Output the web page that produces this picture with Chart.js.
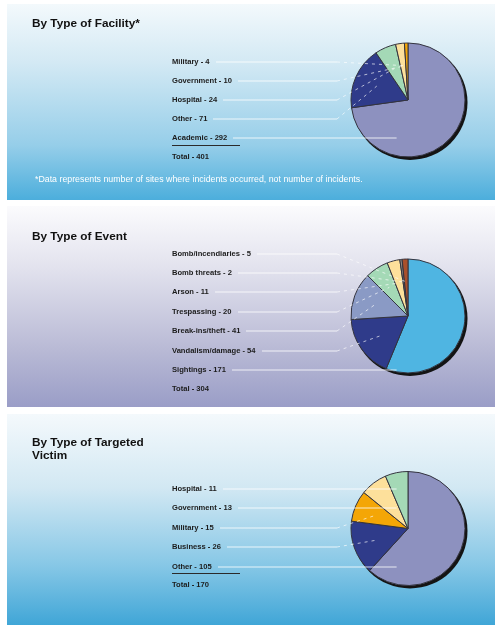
<!DOCTYPE html>
<html>
<head>
    <title>Incidents by Type</title>
    <script src="https://cdn.jsdelivr.net/npm/chart.js"></script>
    <style>
        body {
            margin: 0;
            background: #fff;
            font-family: "Liberation Sans", Arial, sans-serif;
            width: 495px;
            height: 625px;
            overflow: hidden;
            position: relative;
        }
        .panel {
            position: absolute;
            left: 7px;
            width: 488px;
        }
        #facility {
            top: 4px;
            height: 196px;
            background: linear-gradient(#f3f9fc 0%, #d3e9f4 30%, #96cee9 72%, #4caedc 100%);
        }
        #event {
            top: 206px;
            height: 201px;
            background: linear-gradient(#fbfbfd 0%, #e3e3ee 30%, #b8b9d5 72%, #9a9dc7 100%);
        }
        #victim {
            top: 414px;
            height: 211px;
            background: linear-gradient(#f4f9fc 0%, #d2e8f3 35%, #86c7e6 72%, #40a6d7 100%);
        }
        .panel canvas {
            position: absolute;
            left: 0;
            top: 0;
        }
        .title {
            position: absolute;
            left: 25px;
            font-size: 11.8px;
            font-weight: bold;
            line-height: 13px;
            color: #111;
        }
        .lbl {
            position: absolute;
            left: 165px;
            font-size: 7.6px;
            font-weight: bold;
            line-height: 9px;
            color: #1c1c1c;
            white-space: nowrap;
        }
        .rule {
            position: absolute;
            left: 165px;
            width: 68px;
            border-top: 1.5px solid #2a2a2a;
        }
        .note {
            position: absolute;
            left: 28px;
            font-size: 8.8px;
            line-height: 10px;
            color: #fff;
            white-space: nowrap;
        }
    </style>
</head>
<body>
    <div class="panel" id="facility">
        <canvas width="488" height="196"></canvas>
        <div class="title" style="top: 13px;">By Type of Facility*</div>
        <div class="note" style="top: 170px;">*Data represents number of sites where incidents occurred, not number of incidents.</div>
    </div>
    <div class="panel" id="event">
        <canvas width="488" height="201"></canvas>
        <div class="title" style="top: 24px;">By Type of Event</div>
    </div>
    <div class="panel" id="victim">
        <canvas width="488" height="211"></canvas>
        <div class="title" style="top: 22px;">By Type of Targeted<br>Victim</div>
    </div>

    <script>
        // counts per category, listed top to bottom as in the key
        const facilityLabels = ['Military', 'Government', 'Hospital', 'Other', 'Academic'];
        const facilityCounts = [4, 10, 24, 71, 292];

        const eventLabels = ['Bomb/incendiaries', 'Bomb threats', 'Arson', 'Trespassing',
                             'Break-ins/theft', 'Vandalism/damage', 'Sightings'];
        const eventCounts = [5, 2, 11, 20, 41, 54, 171];

        const victimLabels = ['Hospital', 'Government', 'Military', 'Business', 'Other'];
        const victimCounts = [11, 13, 15, 26, 105];

        const ORANGE = '#f4a606', CREAM = '#fde09b', MINT = '#a4d9b6', NAVY = '#2f3b8a',
              LAVENDER = '#8d91bf', SKY = '#4fb5e2', STEEL = '#8a9ac5', BROWN = '#a9502c', GREY = '#8c8580';

        const facilityColors = [ORANGE, CREAM, MINT, NAVY, LAVENDER];
        const eventColors = [BROWN, GREY, CREAM, MINT, STEEL, NAVY, SKY];
        const victimColors = [MINT, CREAM, ORANGE, NAVY, LAVENDER];

        // dark crescent under the pie
        const pieShadow = {
            id: 'pieShadow',
            beforeDatasetsDraw(chart) {
                const arc = chart.getDatasetMeta(0).data[0];
                const ctx = chart.ctx;
                ctx.save();
                ctx.fillStyle = '#141414';
                ctx.beginPath();
                ctx.arc(arc.x + 2, arc.y + 2.5, arc.outerRadius + 0.5, 0, Math.PI * 2);
                ctx.fill();
                ctx.restore();
            }
        };

        // white callout lines from each key row into its slice
        function leaderLines(rows) {
            return {
                id: 'leaderLines',
                afterDatasetsDraw(chart) {
                    const ctx = chart.ctx;
                    const arcs = chart.getDatasetMeta(0).data;
                    const n = arcs.length;
                    ctx.save();
                    ctx.lineWidth = 1;
                    rows.forEach((row, i) => {
                        const arc = arcs[n - 1 - i];
                        const y = row.offsetTop + 5;
                        const x1 = row.offsetLeft + row.offsetWidth + 6;
                        const r = arc.outerRadius;
                        const probeX = arc.x - r * 0.2;
                        ctx.strokeStyle = 'rgba(255,255,255,0.8)';
                        ctx.setLineDash([]);
                        ctx.beginPath();
                        ctx.moveTo(x1, y);
                        if (arc.inRange(probeX, y)) {
                            ctx.lineTo(probeX, y);
                            ctx.stroke();
                            return;
                        }
                        const x0 = arc.x - r - 14;
                        ctx.lineTo(x0, y);
                        ctx.stroke();
                        const mid = (arc.startAngle + arc.endAngle) / 2;
                        ctx.strokeStyle = 'rgba(255,255,255,0.65)';
                        ctx.setLineDash([3, 4]);
                        ctx.beginPath();
                        ctx.moveTo(x0, y);
                        ctx.lineTo(arc.x + Math.cos(mid) * r * 0.6, arc.y + Math.sin(mid) * r * 0.6);
                        ctx.stroke();
                    });
                    ctx.restore();
                }
            };
        }

        function buildPanel(id, labels, counts, colors, rowTop, rowStep, withRule, pad) {
            const panel = document.getElementById(id);
            const rows = labels.map((name, i) => {
                const el = document.createElement('div');
                el.className = 'lbl';
                el.style.top = (rowTop + i * rowStep) + 'px';
                el.textContent = name + ' - ' + counts[i];
                panel.appendChild(el);
                return el;
            });

            const total = counts.reduce((a, b) => a + b, 0);
            const lastTop = rowTop + (labels.length - 1) * rowStep;
            if (withRule) {
                const rule = document.createElement('div');
                rule.className = 'rule';
                rule.style.top = (lastTop + 11.5) + 'px';
                panel.appendChild(rule);
            }
            const totalEl = document.createElement('div');
            totalEl.className = 'lbl';
            totalEl.style.top = (lastTop + (withRule ? 18.5 : rowStep)) + 'px';
            totalEl.textContent = 'Total - ' + total;
            panel.appendChild(totalEl);

            // largest slice starts at 12 o'clock, key order runs counter-clockwise
            new Chart(panel.querySelector('canvas'), {
                type: 'pie',
                data: {
                    labels: labels.slice().reverse(),
                    datasets: [{
                        data: counts.slice().reverse(),
                        backgroundColor: colors.slice().reverse(),
                        borderColor: '#34343f',
                        borderWidth: 1
                    }]
                },
                options: {
                    responsive: false,
                    animation: false,
                    layout: { padding: pad },
                    plugins: {
                        legend: { display: false },
                        tooltip: { enabled: false }
                    }
                },
                plugins: [pieShadow, leaderLines(rows)]
            });
        }

        buildPanel('facility', facilityLabels, facilityCounts, facilityColors, 53, 19.1, true,
                   { left: 343.5, right: 29.5, top: 38.5, bottom: 42.5 });
        buildPanel('event', eventLabels, eventCounts, eventColors, 42.5, 19.4, false,
                   { left: 343.5, right: 29.5, top: 52.5, bottom: 33.5 });
        buildPanel('victim', victimLabels, victimCounts, victimColors, 70, 19.4, true,
                   { left: 343.5, right: 29.5, top: 57, bottom: 39 });
    </script>
</body>
</html>
